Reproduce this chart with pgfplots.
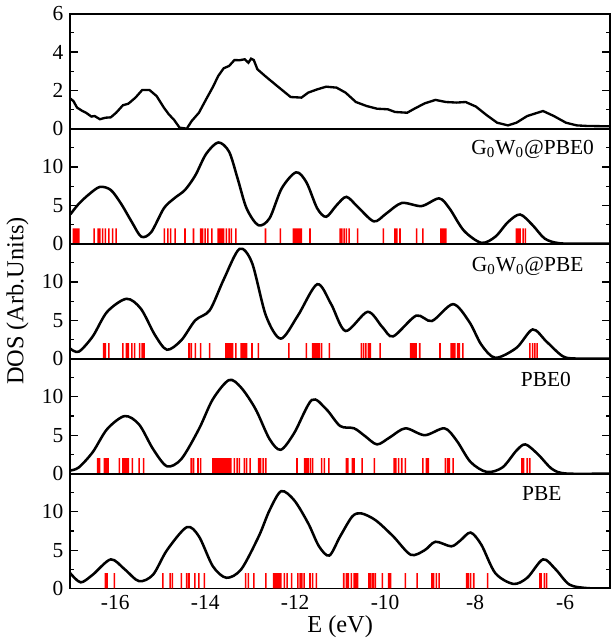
\documentclass[border=0pt]{standalone}
\usepackage{pgfplots}
\pgfplotsset{compat=1.18}
\usepgfplotslibrary{groupplots}
\usepackage{fontspec}
\setmainfont{Liberation Serif}

\pgfplotsset{
  dos/.style={black, line width=1.3pt, smooth, tension=0.5},
  sticks/.style={ybar, bar width=0.8pt, bar shift=0pt, fill=red, draw=none},
}
\tikzset{lbl/.style={font=\fontsize{11}{13}\selectfont, anchor=north east, inner sep=0pt}}

\begin{document}
\begin{tikzpicture}
\begin{groupplot}[
  group style={group size=1 by 5, vertical sep=0pt, xticklabels at=edge bottom},
  width=277pt, height=59pt, scale only axis,
  xmin=-17, xmax=-5,
  ymin=0, ymax=15,
  xtick={-16,-14,-12,-10,-8,-6},
  xtick style={draw=none},
  ytick={0,5,10}, minor ytick={2.5,7.5,12.5},
  tick align=inside,
  major tick length=4pt, minor tick length=2pt,
  every tick/.style={black, line width=0.6pt},
  axis line style={line width=1pt},
  tick label style={font=\fontsize{11}{13}\selectfont},
  /pgf/number format/assume math mode=true,
  label style={font=\fontsize{12.5}{14}\selectfont},
  xlabel style={yshift=4pt},
  clip=true
]
% ---- experiment ----
\nextgroupplot[ymin=0, ymax=6, ytick={0,2,4,6}, minor ytick={1,3,5},
  xtick={-15,-12.5,-10,-7.5}, xtick style={black, line width=0.6pt}]
\addplot[black, line width=1.2pt] coordinates {
(-17.00,1.57) (-16.93,1.44) (-16.85,1.10) (-16.73,0.92) (-16.65,0.83) (-16.53,0.63)
(-16.46,0.66) (-16.34,0.49) (-16.22,0.57) (-16.10,0.59) (-15.98,0.83) (-15.83,1.22)
(-15.71,1.30) (-15.55,1.62) (-15.40,2.02) (-15.24,2.02) (-15.08,1.70) (-14.92,1.10)
(-14.81,0.75) (-14.69,0.45) (-14.57,0.05) (-14.41,0.00) (-14.30,0.40) (-14.14,0.83)
(-13.98,1.53) (-13.83,2.17) (-13.71,2.75) (-13.59,3.15) (-13.47,3.27) (-13.35,3.58)
(-13.24,3.57) (-13.12,3.62) (-13.04,3.44) (-12.98,3.65) (-12.92,3.58) (-12.84,3.10)
(-12.65,2.71) (-12.49,2.40) (-12.33,2.09) (-12.10,1.65) (-11.86,1.62) (-11.71,1.88)
(-11.51,2.05) (-11.31,2.19) (-11.08,2.14) (-10.88,1.88) (-10.65,1.39) (-10.41,1.18)
(-10.18,1.04) (-9.94,1.01) (-9.78,0.87) (-9.51,0.83) (-9.35,1.04) (-9.12,1.32)
(-8.88,1.50) (-8.65,1.39) (-8.41,1.36) (-8.21,1.39) (-7.98,1.15) (-7.74,0.70)
(-7.51,0.31) (-7.27,0.17) (-7.08,0.31) (-6.84,0.66) (-6.49,0.92) (-6.25,0.66)
(-5.98,0.31) (-5.74,0.17) (-5.51,0.14) (-5.00,0.12)};

% ---- G0W0@PBE0 ----
\nextgroupplot
\addplot[sticks] coordinates {
(-16.93,2) (-16.89,2) (-16.85,2) (-16.81,2) (-16.47,2) (-16.38,2) (-16.34,2) (-16.28,2)
(-16.22,2) (-16.14,2) (-16.06,2) (-15.98,2) (-14.91,2) (-14.83,2) (-14.77,2) (-14.67,2)
(-14.45,2) (-14.26,2) (-14.10,2) (-14.06,2) (-14.00,2) (-13.94,2) (-13.85,2) (-13.71,2)
(-13.67,2) (-13.63,2) (-13.59,2) (-13.53,2) (-13.47,2) (-13.42,2) (-13.32,2) (-12.66,2)
(-12.33,2) (-12.04,2) (-12.00,2) (-11.97,2) (-11.94,2) (-11.90,2) (-11.86,2) (-11.67,2)
(-11.00,2) (-10.96,2) (-10.91,2) (-10.86,2) (-10.80,2) (-10.61,2) (-10.04,2) (-9.78,2)
(-9.74,2) (-9.67,2) (-9.30,2) (-9.16,2) (-8.76,2) (-8.72,2) (-8.68,2) (-8.65,2)
(-7.08,2) (-7.04,2) (-7.00,2) (-6.93,2) (-6.88,2)};
\addplot[dos] coordinates {
(-17.00,3.8) (-16.81,5.2) (-16.57,6.5) (-16.34,7.4) (-16.10,7.0) (-15.87,5.2)
(-15.63,2.8) (-15.42,0.9) (-15.20,1.5) (-14.92,4.6) (-14.69,5.9) (-14.45,7.0)
(-14.22,8.9) (-13.98,11.7) (-13.71,13.2) (-13.47,12.0) (-13.28,8.5) (-13.08,4.6)
(-12.82,2.4) (-12.57,3.3) (-12.30,7.2) (-11.98,9.3) (-11.75,8.0) (-11.51,4.6)
(-11.31,3.5) (-11.08,5.0) (-10.86,6.1) (-10.61,4.8) (-10.25,2.9) (-9.98,3.9)
(-9.63,5.3) (-9.19,4.9) (-8.80,5.9) (-8.57,4.6) (-8.25,1.7) (-7.86,0.1)
(-7.55,0.9) (-7.27,2.8) (-7.00,3.8) (-6.72,2.4) (-6.45,0.65) (-6.13,0.05)
(-5.60,0) (-5.00,0)};
\node[lbl] at (axis cs:-5.35,13.6) {G\textsubscript{0}W\textsubscript{0}@PBE0};

% ---- G0W0@PBE ----
\nextgroupplot[ylabel={DOS (Arb.Units)}]
\addplot[sticks] coordinates {
(-16.26,2) (-16.22,2) (-16.14,2) (-15.83,2) (-15.75,2) (-15.71,2) (-15.63,2) (-15.57,2)
(-15.46,2) (-15.40,2) (-15.36,2) (-14.36,2) (-14.31,2) (-14.22,2) (-14.10,2) (-13.90,2)
(-13.54,2) (-13.51,2) (-13.49,2) (-13.46,2) (-13.43,2) (-13.39,2) (-13.32,2) (-13.20,2)
(-13.16,2) (-13.12,2) (-13.08,2) (-12.96,2) (-12.82,2) (-12.14,2) (-11.75,2) (-11.61,2)
(-11.57,2) (-11.53,2) (-11.49,2) (-11.46,2) (-11.41,2) (-11.24,2) (-10.53,2) (-10.48,2)
(-10.43,2) (-10.37,2) (-10.33,2) (-10.11,2) (-9.43,2) (-9.39,2) (-9.35,2) (-9.31,2)
(-9.23,2) (-8.78,2) (-8.53,2) (-8.49,2) (-8.45,2) (-8.39,2) (-8.35,2) (-8.27,2)
(-6.78,2) (-6.72,2) (-6.67,2) (-6.62,2)};
\addplot[dos] coordinates {
(-17.00,1.3) (-16.81,0.9) (-16.50,2.9) (-16.18,6.1) (-15.75,7.8) (-15.43,6.5)
(-15.12,3.1) (-14.85,1.15) (-14.53,2.4) (-14.22,5.0) (-13.90,6.3) (-13.59,10.3)
(-13.24,14.3) (-12.96,12.5) (-12.65,5.6) (-12.32,2.6) (-11.94,5.6) (-11.51,9.7)
(-11.20,7.1) (-10.88,3.6) (-10.39,6.1) (-10.06,4.1) (-9.82,2.9) (-9.31,5.6)
(-8.96,4.9) (-8.49,7.1) (-8.13,4.8) (-7.86,1.8) (-7.55,0.1) (-7.08,1.4)
(-6.72,3.8) (-6.41,2.2) (-6.05,0.3) (-5.74,0) (-5.00,0)};
\node[lbl] at (axis cs:-5.58,13.3) {G\textsubscript{0}W\textsubscript{0}@PBE};

% ---- PBE0 ----
\nextgroupplot
\addplot[sticks] coordinates {
(-16.39,2) (-16.35,2) (-16.24,2) (-16.20,2) (-16.16,2) (-15.91,2) (-15.83,2) (-15.79,2)
(-15.75,2) (-15.71,2) (-15.62,2) (-15.47,2) (-15.37,2) (-14.31,2) (-14.26,2) (-14.16,2)
(-14.10,2) (-13.83,2) (-13.79,2) (-13.75,2) (-13.71,2) (-13.67,2) (-13.63,2) (-13.59,2)
(-13.55,2) (-13.51,2) (-13.47,2) (-13.43,2) (-13.35,2) (-13.29,2) (-13.24,2) (-13.13,2)
(-13.08,2) (-13.00,2) (-12.81,2) (-12.77,2) (-12.71,2) (-12.65,2) (-11.96,2) (-11.79,2)
(-11.75,2) (-11.71,2) (-11.66,2) (-11.61,2) (-11.41,2) (-11.35,2) (-11.25,2) (-10.86,2)
(-10.83,2) (-10.73,2) (-10.69,2) (-10.51,2) (-10.24,2) (-9.80,2) (-9.76,2) (-9.70,2)
(-9.63,2) (-9.55,2) (-9.16,2) (-9.08,2) (-9.04,2) (-8.66,2) (-8.61,2) (-8.57,2)
(-8.49,2) (-6.96,2) (-6.92,2) (-6.84,2) (-6.78,2)};
\addplot[dos] coordinates {
(-17.00,0.4) (-16.81,0.8) (-16.50,2.8) (-16.18,5.8) (-15.79,7.5) (-15.47,6.4)
(-15.16,3.2) (-14.85,0.95) (-14.53,1.9) (-14.14,5.8) (-13.83,9.7) (-13.47,12.2)
(-13.20,11.2) (-12.88,8.4) (-12.57,4.5) (-12.32,3.1) (-12.02,5.3) (-11.63,9.6)
(-11.31,8.4) (-11.00,6.2) (-10.69,5.9) (-10.45,4.9) (-10.18,3.8) (-9.90,4.7)
(-9.55,5.9) (-9.12,5.0) (-8.68,5.9) (-8.41,4.3) (-8.10,1.5) (-7.74,0.2)
(-7.39,0.8) (-7.08,3.0) (-6.88,3.8) (-6.60,2.5) (-6.29,0.6) (-5.97,0) (-5.00,0)};
\node[lbl] at (axis cs:-5.86,13.3) {PBE0};

% ---- PBE ----
\nextgroupplot[xlabel={E (eV)}]
\addplot[sticks] coordinates {
(-16.22,2) (-16.18,2) (-16.02,2) (-14.94,2) (-14.78,2) (-14.73,2) (-14.53,2) (-14.41,2)
(-14.36,2) (-14.23,2) (-14.14,2) (-14.02,2) (-13.10,2) (-13.04,2) (-12.92,2) (-12.65,2)
(-12.48,2) (-12.44,2) (-12.40,2) (-12.36,2) (-12.32,2) (-12.24,2) (-12.18,2) (-12.08,2)
(-11.94,2) (-11.89,2) (-11.85,2) (-11.80,2) (-11.67,2) (-11.61,2) (-11.53,2) (-10.92,2)
(-10.86,2) (-10.82,2) (-10.75,2) (-10.69,2) (-10.65,2) (-10.61,2) (-10.36,2) (-10.32,2)
(-10.27,2) (-10.22,2) (-10.06,2) (-9.92,2) (-9.88,2) (-9.55,2) (-9.29,2) (-8.96,2)
(-8.92,2) (-8.86,2) (-8.80,2) (-8.19,2) (-8.15,2) (-8.10,2) (-8.03,2) (-7.72,2)
(-6.56,2) (-6.53,2) (-6.46,2) (-6.41,2)};
\addplot[dos] coordinates {
(-17.00,2.0) (-16.77,0.8) (-16.50,1.8) (-16.10,3.8) (-15.79,2.5) (-15.47,0.95)
(-15.16,1.8) (-14.85,5.0) (-14.41,8.0) (-14.14,6.8) (-13.83,2.9) (-13.53,1.4)
(-13.20,2.5) (-12.81,6.8) (-12.57,10.2) (-12.31,12.7) (-12.02,11.5) (-11.71,8.5)
(-11.47,5.5) (-11.24,4.3) (-11.00,6.8) (-10.73,9.4) (-10.53,9.8) (-10.21,8.9)
(-9.82,6.8) (-9.43,4.4) (-9.12,5.0) (-8.88,6.1) (-8.53,5.5) (-8.33,6.25)
(-8.10,7.3) (-7.86,5.7) (-7.55,2.0) (-7.15,0.6) (-6.84,1.4) (-6.49,3.8)
(-6.21,2.5) (-5.90,0.5) (-5.50,0.05) (-5.00,0)};
\node[lbl] at (axis cs:-6.07,13.3) {PBE};
\end{groupplot}
\end{tikzpicture}
\end{document}
